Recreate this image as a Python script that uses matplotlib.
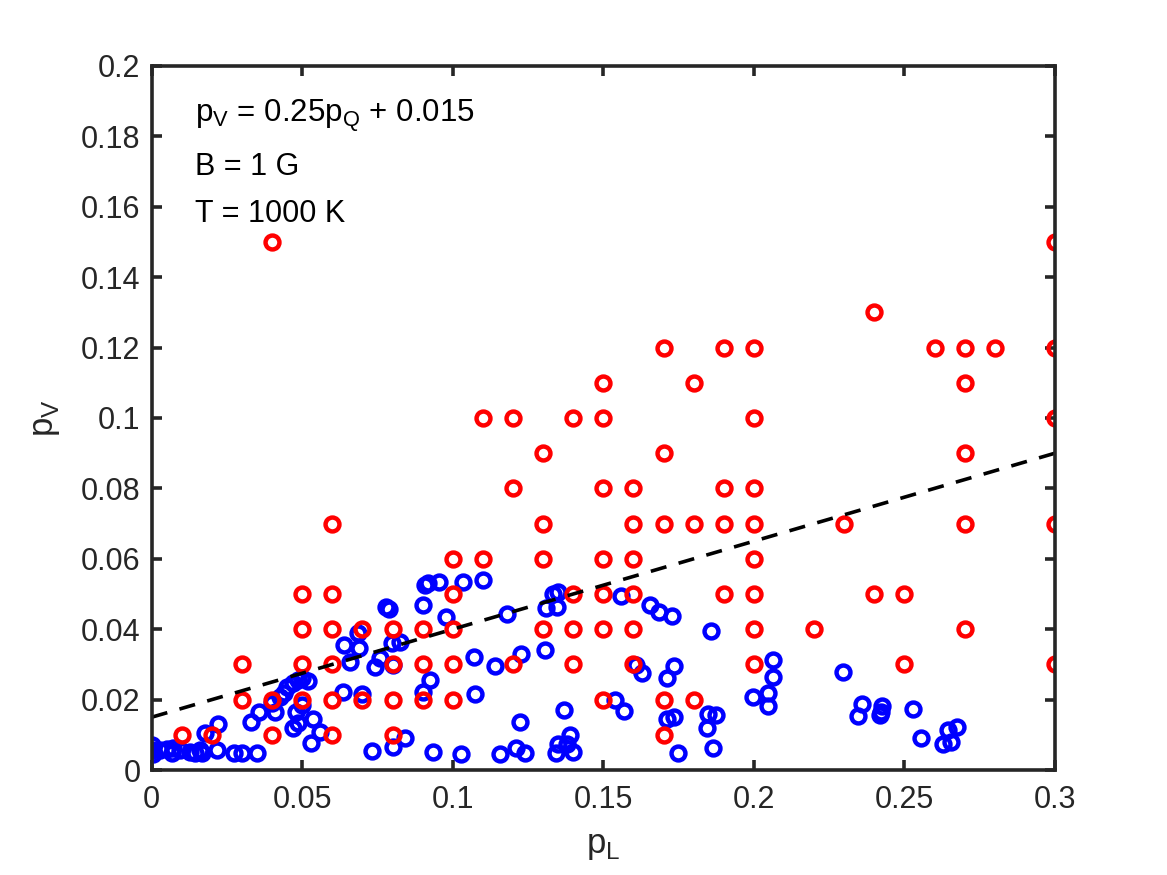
import matplotlib.pyplot as plt
import numpy as np

plt.rcParams['font.family'] = ['Liberation Sans', 'DejaVu Sans']
plt.rcParams['mathtext.fontset'] = 'custom'
plt.rcParams['mathtext.rm'] = 'Liberation Sans'

# red points (grid values)
red_x = [0.01, 0.02, 0.03, 0.03, 0.04, 0.04, 0.04,
         0.05, 0.05, 0.05, 0.05,
         0.06, 0.06, 0.06, 0.06, 0.06, 0.06,
         0.07, 0.07,
         0.08, 0.08, 0.08, 0.08,
         0.09, 0.09, 0.09,
         0.10, 0.10, 0.10, 0.10, 0.10,
         0.11, 0.11,
         0.12, 0.12, 0.12,
         0.13, 0.13, 0.13, 0.13,
         0.14, 0.14, 0.14, 0.14,
         0.15, 0.15, 0.15, 0.15, 0.15, 0.15, 0.15,
         0.16, 0.16, 0.16, 0.16, 0.16, 0.16,
         0.17, 0.17, 0.17, 0.17, 0.17,
         0.18, 0.18, 0.18,
         0.19, 0.19, 0.19, 0.19,
         0.20, 0.20, 0.20, 0.20, 0.20, 0.20, 0.20, 0.20,
         0.22, 0.23, 0.24, 0.24, 0.25, 0.25, 0.26,
         0.27, 0.27, 0.27, 0.27, 0.27,
         0.28,
         0.30, 0.30, 0.30, 0.30, 0.30]
red_y = [0.01, 0.01, 0.03, 0.02, 0.15, 0.02, 0.01,
         0.05, 0.04, 0.03, 0.02,
         0.07, 0.05, 0.04, 0.03, 0.02, 0.01,
         0.04, 0.02,
         0.04, 0.03, 0.02, 0.01,
         0.04, 0.03, 0.02,
         0.06, 0.05, 0.04, 0.03, 0.02,
         0.10, 0.06,
         0.10, 0.08, 0.03,
         0.09, 0.07, 0.06, 0.04,
         0.10, 0.05, 0.04, 0.03,
         0.11, 0.10, 0.08, 0.06, 0.05, 0.04, 0.02,
         0.08, 0.07, 0.06, 0.05, 0.04, 0.03,
         0.12, 0.09, 0.07, 0.02, 0.01,
         0.11, 0.07, 0.02,
         0.12, 0.08, 0.07, 0.05,
         0.12, 0.10, 0.08, 0.07, 0.06, 0.05, 0.04, 0.03,
         0.04, 0.07, 0.13, 0.05, 0.05, 0.03, 0.12,
         0.12, 0.11, 0.09, 0.07, 0.04,
         0.12,
         0.15, 0.12, 0.10, 0.07, 0.03]

# blue points
blue_x = [0.000, 0.000, 0.0003, 0.0027, 0.005, 0.0066, 0.007, 0.0093, 0.0126, 0.0143,
          0.016, 0.0166, 0.0216, 0.0272, 0.030, 0.035,
          0.0178, 0.022, 0.033, 0.0356, 0.041, 0.040, 0.0425, 0.044, 0.045, 0.047,
          0.0485, 0.050, 0.052, 0.050, 0.048, 0.047, 0.0485, 0.0535, 0.056, 0.053,
          0.0635, 0.064, 0.066, 0.069, 0.0685, 0.070, 0.074, 0.0757, 0.0777, 0.0788,
          0.0797, 0.0824, 0.080, 0.073, 0.080, 0.084, 0.090, 0.0924, 0.090, 0.0907,
          0.0917, 0.0953, 0.0977, 0.0934, 0.1026, 0.1034, 0.110, 0.107, 0.114, 0.1226,
          0.1306, 0.1073, 0.118, 0.131, 0.1333, 0.135, 0.1345, 0.156, 0.1655, 0.1685,
          0.1727, 0.1857, 0.161, 0.1628, 0.171, 0.1734, 0.1997, 0.1538, 0.157, 0.137,
          0.1223, 0.171, 0.1734, 0.1847, 0.1873, 0.1843, 0.1864, 0.1748, 0.1156, 0.121,
          0.124, 0.1342, 0.135, 0.139, 0.138, 0.140,
          0.2063, 0.2063, 0.2046, 0.2046, 0.2296, 0.236, 0.2345, 0.2425, 0.2422, 0.242,
          0.2529, 0.2555, 0.2675, 0.2645, 0.2628, 0.2654]
blue_y = [0.0071, 0.0057, 0.0045, 0.0057, 0.0060, 0.0048, 0.0062, 0.0057, 0.0051, 0.0048,
          0.0057, 0.0048, 0.0057, 0.0048, 0.0048, 0.0048,
          0.0106, 0.0130, 0.0137, 0.0164, 0.0165, 0.0190, 0.0208, 0.0218, 0.0237, 0.0246,
          0.0256, 0.0260, 0.0253, 0.0185, 0.0165, 0.0120, 0.0134, 0.0145, 0.0108, 0.0077,
          0.0222, 0.0355, 0.0307, 0.0347, 0.0390, 0.0216, 0.0293, 0.0318, 0.0464, 0.0456,
          0.0360, 0.0364, 0.0298, 0.0054, 0.0066, 0.0091, 0.0222, 0.0256, 0.0469, 0.0526,
          0.0531, 0.0534, 0.0434, 0.0051, 0.0045, 0.0534, 0.0540, 0.0320, 0.0296, 0.0330,
          0.0340, 0.0216, 0.0443, 0.0460, 0.0500, 0.0506, 0.0464, 0.0494, 0.0470, 0.0449,
          0.0437, 0.0395, 0.0298, 0.0275, 0.0260, 0.0295, 0.0207, 0.0199, 0.0168, 0.0170,
          0.0137, 0.0145, 0.0150, 0.0160, 0.0156, 0.0119, 0.0063, 0.0048, 0.0045, 0.0063,
          0.0048, 0.0048, 0.0074, 0.0100, 0.0074, 0.0050,
          0.0312, 0.0264, 0.0218, 0.0182, 0.0278, 0.0188, 0.0154, 0.0182, 0.0165, 0.0156,
          0.0173, 0.0091, 0.0122, 0.0114, 0.0074, 0.0080]

# fit line p_V = 0.25 p_Q + 0.015
fit_slope = 0.25
fit_icept = 0.015
fit_x = np.array([0, 0.3])

fig = plt.figure(figsize=(11.67, 8.75), dpi=100)
ax = fig.add_axes([0.130, 0.12, 0.774, 0.8046])

mk = dict(linestyle='none', marker='o', markersize=10, markeredgewidth=3.2,
          markerfacecolor='none')
ax.plot(blue_x, blue_y, color='#0000ff', **mk)
ax.plot(red_x, red_y, color='#ff0000', **mk)
ax.plot(fit_x, fit_slope * fit_x + fit_icept, color='black', lw=2.6,
        linestyle=(0, (4.5, 3.5)))

ax.set_xlim(0, 0.3)
ax.set_ylim(0, 0.2)
ax.set_xticks([0, 0.05, 0.1, 0.15, 0.2, 0.25, 0.3])
ax.set_xticklabels(['0', '0.05', '0.1', '0.15', '0.2', '0.25', '0.3'])
ax.set_yticks(np.arange(0, 0.201, 0.02))
ax.set_yticklabels(['0', '0.02', '0.04', '0.06', '0.08', '0.1', '0.12',
                    '0.14', '0.16', '0.18', '0.2'])

axcol = '#262626'
for s in ax.spines.values():
    s.set_linewidth(2.6)
    s.set_color(axcol)
ax.tick_params(direction='in', length=7, width=2.6, color=axcol,
               labelsize=22, labelcolor=axcol, top=True, right=True)
ax.tick_params(axis='x', pad=11)
ax.tick_params(axis='y', pad=8)

ax.set_xlabel('p$_\\mathregular{L}$', fontsize=25, color=axcol, labelpad=10)
ax.set_ylabel('p$_\\mathregular{V}$', fontsize=25, color=axcol, labelpad=14)

ax.text(0.0143, 0.1840, 'p$_\\mathregular{V}$ = 0.25p$_\\mathregular{Q}$ + 0.015',
        fontsize=22.5, va='baseline')
ax.text(0.0143, 0.1690, 'B = 1 G', fontsize=22, va='baseline')
ax.text(0.0143, 0.1557, 'T = 1000 K', fontsize=22, va='baseline')

fig.savefig('out.png', dpi=100, facecolor='white')
